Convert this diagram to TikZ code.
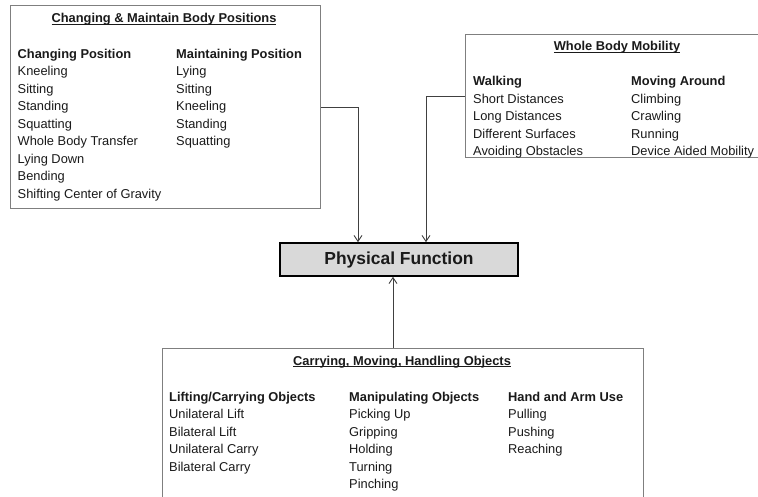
\documentclass[tikz,border=0pt]{standalone}
\usepackage{fontspec}
\setmainfont{Liberation Sans}
\usepackage{tikz}
\usetikzlibrary{arrows.meta}
\definecolor{ink}{HTML}{1A1A1A}
\definecolor{boxgray}{HTML}{7F7F7F}
\definecolor{wire}{HTML}{404040}
\definecolor{pfill}{HTML}{D9D9D9}
\newcommand{\titleline}[1]{\setbox0\hbox{#1}\rlap{\rule[-2.4pt]{\wd0}{0.9pt}}\box0}
\newcommand{\itemfont}{\fontsize{12.9}{17.6}\selectfont}
\tikzset{
  group/.style={draw=boxgray, line width=1.1pt, anchor=north west, inner sep=0pt},
  pfbox/.style={draw=black, line width=1.6pt, fill=pfill, minimum width=238bp,
    minimum height=33bp, inner sep=0pt, text=ink,
    font=\fontsize{17.5}{20}\bfseries\selectfont},
  title/.style={anchor=base, inner sep=0pt, text=ink, font=\itemfont\bfseries},
  col/.style={anchor=north west, inner sep=0pt, align=left, text=ink, font=\itemfont},
  conn/.style={draw=wire, line width=0.9pt, -{Straight Barb[length=6pt,width=8pt]}}
}

\begin{document}
\begin{tikzpicture}[x=1bp, y=-1bp]
  \fill[white] (0,0) rectangle (758,497);
  \useasboundingbox (0,0) rectangle (758,497);
  \clip (0,0) rectangle (758,497);

  % the three groups and the centre box
  \node[group, minimum width=310bp, minimum height=203bp] (posbox) at (10,5) {};
  \node[group, minimum width=310bp, minimum height=123bp] (mobbox) at (465,34) {};
  \node[group, minimum width=481bp, minimum height=165bp] (objbox) at (162,348) {};
  \node[pfbox] (pf) at (399,259.5) {Physical Function};

  % body positions
  \node[title] (postitle) at (164,22.7) {\titleline{Changing \& Maintain Body Positions}};
  \node[col] (chgcol) at (17.5,45.6) {\strut\textbf{Changing Position}\\Kneeling\\Sitting\\
    Standing\\Squatting\\Whole Body Transfer\\Lying Down\\Bending\\Shifting Center of Gravity};
  \node[col] (maincol) at (176,45.6) {\strut\textbf{Maintaining Position}\\Lying\\Sitting\\
    Kneeling\\Standing\\Squatting};

  % mobility
  \node[title] (mobtitle) at (617,50.7) {\titleline{Whole Body Mobility}};
  \node[col] (walkcol) at (473,73.3) {\strut\textbf{Walking}\\Short Distances\\Long Distances\\
    Different Surfaces\\Avoiding Obstacles};
  \node[col] (movecol) at (631,73.3) {\strut\textbf{Moving Around}\\Climbing\\Crawling\\
    Running\\Device Aided Mobility};

  % objects
  \node[title] (objtitle) at (402,365) {\titleline{Carrying, Moving, Handling Objects}};
  \node[col] (liftcol) at (169,388.6) {\strut\textbf{Lifting/Carrying Objects}\\Unilateral Lift\\
    Bilateral Lift\\Unilateral Carry\\Bilateral Carry};
  \node[col] (manipcol) at (349,388.6) {\strut\textbf{Manipulating Objects}\\Picking Up\\Gripping\\
    Holding\\Turning\\Pinching};
  \node[col] (handcol) at (508,388.6) {\strut\textbf{Hand and Arm Use}\\Pulling\\Pushing\\Reaching};

  % connectors
  \coordinate (dropA) at (358,0);
  \coordinate (dropB) at (426,0);
  \coordinate (riseC) at (393,348);
  \draw[conn] (posbox.east) -| (dropA |- pf.north);
  \draw[conn] (mobbox.west) -| (dropB |- pf.north);
  \draw[conn] (riseC) -- (riseC |- pf.south);
\end{tikzpicture}
\end{document}
